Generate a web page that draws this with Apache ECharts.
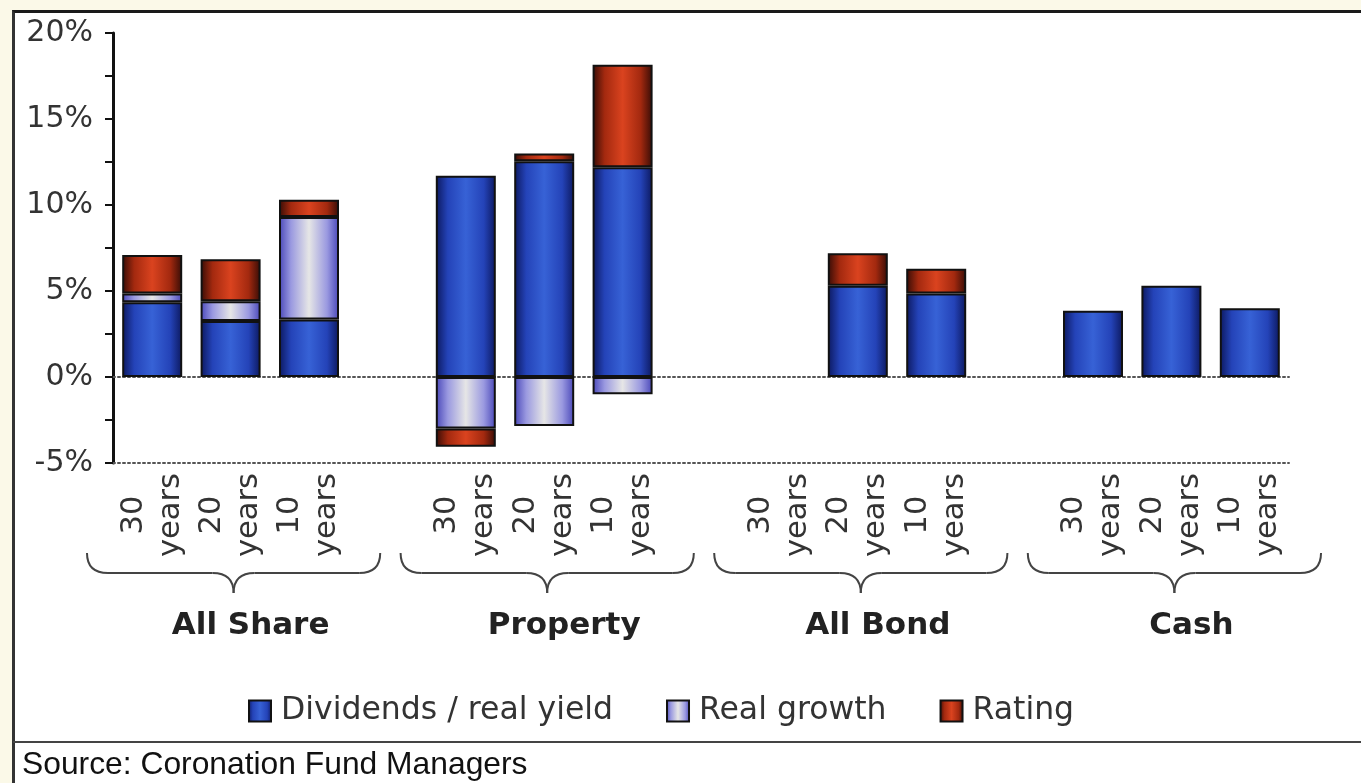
<!DOCTYPE html>
<html>
<head>
<meta charset="utf-8">
<script src="https://cdn.jsdelivr.net/npm/echarts@6/dist/echarts.min.js"></script>
<style>
  html, body { margin:0; padding:0; background:#fbf9e8; }
  #frame { position:absolute; left:12px; top:10px; width:1360px; height:790px; background:#fff;
           border-top:3px solid #1a1a1a; border-left:3px solid #333; box-sizing:border-box; }
  #main { position:absolute; left:0; top:0; width:1361px; height:783px; }
</style>
</head>
<body>
<div id="frame"></div>
<div id="main"></div>
<script>
// ---- data ----
const groups = ['All Share', 'Property', 'All Bond', 'Cash'];
const periods = ['30\nyears', '20\nyears', '10\nyears'];
const yTicks = [-5, 0, 5, 10, 15, 20];
// values per group, in period order 30y, 20y, 10y (percent)
const dividends  = [4.35, 3.25, 3.35,   11.7, 12.55, 12.2,   null, 5.3, 4.85,   3.85, 5.3, 4.0];
const realGrowth = [0.5, 1.15, 5.95,   -3.0, -2.85, -1.0,   null, null, null,   null, null, null];
const rating     = [2.25, 2.45, 1.0,   -1.05, 0.45, 5.95,   null, 1.9, 1.45,   null, null, null];

// ---- build category layout: 3 periods per group, one empty slot between groups ----
const cats = [], groupCats = [];
function spread(vals) {
  const out = [];
  groups.forEach((g, gi) => {
    if (gi > 0) out.push(null);
    periods.forEach((p, pi) => out.push(vals[gi * periods.length + pi]));
  });
  return out;
}
groups.forEach((g, gi) => {
  if (gi > 0) { cats.push(''); groupCats.push(''); }
  periods.forEach((p, pi) => { cats.push(p); groupCats.push(pi === 1 ? g : ''); });
});
const groupCenterIdx = groups.map((g, gi) => gi * (periods.length + 1) + 1);

function grad(edge, mid, center) {
  return new echarts.graphic.LinearGradient(0, 0, 1, 0, [
    { offset: 0, color: edge }, { offset: 0.2, color: mid },
    { offset: 0.5, color: center }, { offset: 0.8, color: mid }, { offset: 1, color: edge }
  ]);
}
const FONT = 'DejaVu Sans';
const dotted = { color: '#555', width: 2, type: [2, 3] };

const chart = echarts.init(document.getElementById('main'), null, { renderer: 'canvas' });
const barCommon = { type: 'bar', stack: 'total', barWidth: 60, xAxisIndex: 0, yAxisIndex: 0,
  itemStyle: { borderColor: '#111', borderWidth: 2 } };

chart.setOption({
  backgroundColor: 'transparent',
  animation: false,
  title: {
    text: 'Source: Coronation Fund Managers', left: 22, top: 748, padding: 0,
    textStyle: { fontFamily: 'Liberation Sans', fontSize: 31.8, fontWeight: 'normal', color: '#111', lineHeight: 34 }
  },
  grid: { left: 113, right: 72, top: 33, bottom: 320, containLabel: false },
  legend: {
    left: 248, top: 695, padding: 0, itemWidth: 22, itemHeight: 21, itemGap: 53, icon: 'rect',
    textStyle: { fontFamily: FONT, fontSize: 31.5, color: '#333', padding: [0, 0, 0, 5] },
    data: ['Dividends / real yield', 'Real growth', 'Rating']
  },
  xAxis: [
    {
      type: 'category', data: cats, position: 'bottom',
      axisLine: { show: true, onZero: false, lineStyle: dotted },
      axisTick: { show: false },
      axisLabel: { interval: 0, rotate: 90, align: 'center', verticalAlign: 'middle', margin: 52,
        fontFamily: FONT, fontSize: 30.5, lineHeight: 37, color: '#333' }
    },
    {
      type: 'category', data: groupCats, position: 'bottom', offset: 138,
      axisLine: { show: false }, axisTick: { show: false },
      axisLabel: { interval: 0, margin: 8, fontFamily: FONT, fontSize: 31, fontWeight: 'bold',
        lineHeight: 34, color: '#222', padding: [0, 0, 0, 40] }
    },
    {
      type: 'category', data: cats, position: 'bottom',
      axisLine: { show: true, onZero: true, onZeroAxisIndex: 0, lineStyle: dotted },
      axisTick: { show: false }, axisLabel: { show: false }
    }
  ],
  yAxis: {
    type: 'value', min: yTicks[0], max: yTicks[yTicks.length - 1], interval: 5,
    axisLine: { show: true, lineStyle: { color: '#111', width: 3 } },
    axisTick: { show: true, length: 8, lineStyle: { color: '#111', width: 2 } },
    minorTick: { show: true, splitNumber: 2, length: 8, lineStyle: { color: '#111', width: 2 } },
    splitLine: { show: false },
    axisLabel: { formatter: '{value}%', margin: 20, fontFamily: FONT, fontSize: 30, color: '#333' }
  },
  series: [
    Object.assign({}, barCommon, { name: 'Dividends / real yield', data: spread(dividends),
      itemStyle: Object.assign({}, barCommon.itemStyle, { color: grad('#0c185e', '#2443b8', '#3762d6') }) }),
    Object.assign({}, barCommon, { name: 'Real growth', data: spread(realGrowth),
      itemStyle: Object.assign({}, barCommon.itemStyle, { color: grad('#4846b8', '#9a99e0', '#e6e6e6') }) }),
    Object.assign({}, barCommon, { name: 'Rating', data: spread(rating),
      itemStyle: Object.assign({}, barCommon.itemStyle, { color: grad('#350c06', '#a3290f', '#da431f') }) })
  ]
});

// ---- group braces and separator, placed from the axis scale ----
function drawDecor() {
  const px = i => chart.convertToPixel({ xAxisIndex: 0 }, i);
  const pitch = px(1) - px(0);
  const base = chart.convertToPixel({ yAxisIndex: 0 }, yTicks[0]);
  const yTop = base + 90, yMid = base + 110, yBot = base + 130;
  const r = 21, half = 1.87 * pitch;
  const st = { stroke: '#444', lineWidth: 2, fill: null };
  const els = [];
  groupCenterIdx.forEach(ci => {
    const cx = px(ci) + 3, x0 = cx - half, x1 = cx + half;
    els.push(
      { type: 'bezierCurve', shape: { x1: x0, y1: yTop, cpx1: x0, cpy1: yMid, x2: x0 + r, y2: yMid }, style: st },
      { type: 'line', shape: { x1: x0 + r, y1: yMid, x2: cx - r, y2: yMid }, style: st },
      { type: 'bezierCurve', shape: { x1: cx - r, y1: yMid, cpx1: cx, cpy1: yMid, x2: cx, y2: yBot }, style: st },
      { type: 'bezierCurve', shape: { x1: cx, y1: yBot, cpx1: cx, cpy1: yMid, x2: cx + r, y2: yMid }, style: st },
      { type: 'line', shape: { x1: cx + r, y1: yMid, x2: x1 - r, y2: yMid }, style: st },
      { type: 'bezierCurve', shape: { x1: x1 - r, y1: yMid, cpx1: x1, cpy1: yMid, x2: x1, y2: yTop }, style: st }
    );
  });
  els.push({ type: 'line', shape: { x1: 13, y1: 742, x2: 1361, y2: 742 }, style: { stroke: '#444', lineWidth: 2 } });
  chart.setOption({ graphic: { elements: els } });
}
drawDecor();
</script>
</body>
</html>
